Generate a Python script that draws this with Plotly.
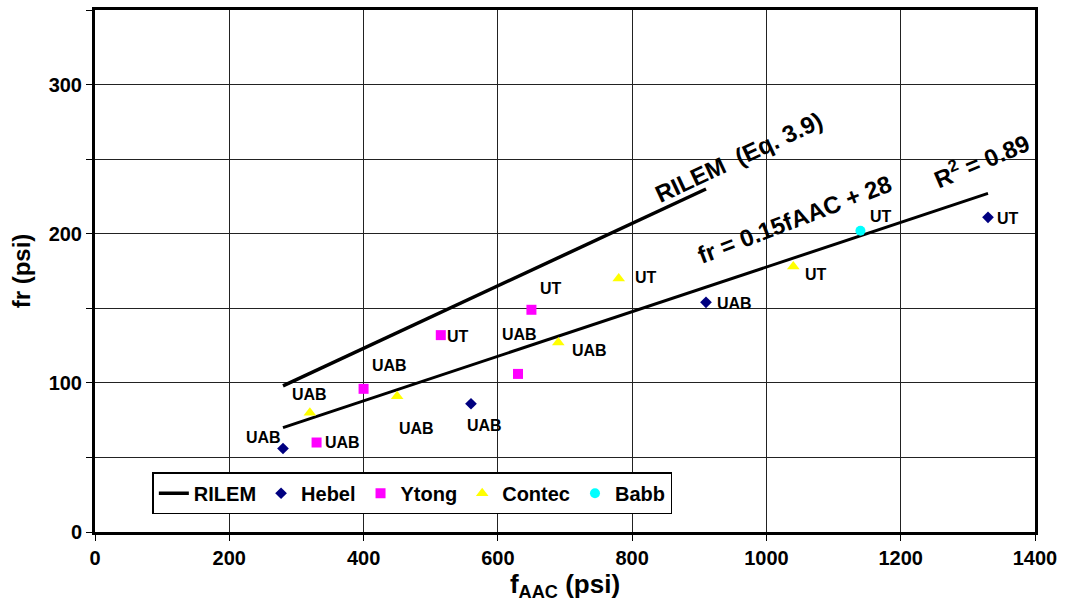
import plotly.graph_objects as go

# ---- data ----
hebel_x = [280, 560, 910, 1330]
hebel_y = [56, 86, 154, 211]
hebel_lbl = ["UAB", "UAB", "UAB", "UT"]

ytong_x = [330, 400, 515, 630, 650]
ytong_y = [60, 96, 132, 106, 149]
ytong_lbl = ["UAB", "UAB", "UT", "UAB", "UT"]

contec_x = [320, 450, 690, 780, 1040]
contec_y = [80, 91, 127, 170, 178]
contec_lbl = ["UAB", "UAB", "UAB", "UT", "UT"]

babb_x = [1140]
babb_y = [202]
babb_lbl = ["UT"]

rilem_x = [280, 910]
rilem_y = [98, 230]

fit_x = [280, 1330]
fit_y = [70, 227]

# label offsets (pixels) for each point, per series
hebel_off = [(-20, 11), (13, -22), (28, -1), (20, -1)]
ytong_off = [(26, 0), (26, 23), (17, -1), (1, 39), (20, 21)]
contec_off = [(0, 18), (19, -32), (31, -8), (27, 1), (23, -8)]
babb_off = [(21, 14)]

FONT = "Liberation Sans, Arial, sans-serif"

fig = go.Figure()

fig.add_trace(go.Scatter(x=rilem_x, y=rilem_y, mode="lines", name="RILEM",
                         line=dict(color="black", width=3.5)))
fig.add_trace(go.Scatter(x=fit_x, y=fit_y, mode="lines", showlegend=False,
                         line=dict(color="black", width=3)))
fig.add_trace(go.Scatter(x=hebel_x, y=hebel_y, mode="markers", name="Hebel",
                         marker=dict(symbol="diamond", color="#000080", size=9)))
fig.add_trace(go.Scatter(x=ytong_x, y=ytong_y, mode="markers", name="Ytong",
                         marker=dict(symbol="square", color="#FF00FF", size=10)))
fig.add_trace(go.Scatter(x=contec_x, y=contec_y, mode="markers", name="Contec",
                         marker=dict(symbol="triangle-up", color="#FFFF00", size=11)))
fig.add_trace(go.Scatter(x=babb_x, y=babb_y, mode="markers", name="Babb",
                         marker=dict(symbol="circle", color="#00FFFF", size=10)))

for xs, ys, ls, offs in [(hebel_x, hebel_y, hebel_lbl, hebel_off),
                         (ytong_x, ytong_y, ytong_lbl, ytong_off),
                         (contec_x, contec_y, contec_lbl, contec_off),
                         (babb_x, babb_y, babb_lbl, babb_off)]:
    for x, y, l, (dx, dy) in zip(xs, ys, ls, offs):
        fig.add_annotation(x=x, y=y, text=l, showarrow=False, xshift=dx, yshift=dy,
                           xanchor="center", yanchor="middle",
                           font=dict(family=FONT, size=16, color="black", weight="bold"))

for text, px, py, ang in [("RILEM  (Eq. 3.9)", 738, 155, -25),
                          ("fr = 0.15fAAC + 28", 794, 218, -21),
                          ("R<sup>2</sup> = 0.89", 981, 158, -23)]:
    fig.add_annotation(x=(px - 95) / 940, y=(532 - py) / 525, xref="paper", yref="paper",
                       xanchor="center", yanchor="middle",
                       text=text, textangle=ang, showarrow=False,
                       font=dict(family=FONT, size=24, color="black", weight="bold"))

axis_common = dict(showline=True, linecolor="black", linewidth=3, mirror=True,
                   showgrid=True, gridcolor="#222222", gridwidth=1,
                   ticks="outside", ticklen=6, tickcolor="black", tickwidth=1,
                   zeroline=False,
                   tickfont=dict(family=FONT, size=20, color="black", weight="bold"))

fig.update_xaxes(range=[0, 1400], tick0=0, dtick=200, **axis_common,
                 title=dict(text="f<sub>AAC</sub> (psi)", standoff=4,
                            font=dict(family=FONT, size=26, color="black", weight="bold")))
fig.update_yaxes(range=[0, 350], tick0=0, dtick=100, **axis_common,
                 minor=dict(tick0=0, dtick=50, showgrid=True, gridcolor="#222222", gridwidth=1,
                            ticks="outside", ticklen=6, tickcolor="black", tickwidth=1),
                 title=dict(text="fr (psi)", standoff=12,
                            font=dict(family=FONT, size=24, color="black", weight="bold")))

fig.update_layout(
    width=1066, height=611,
    margin=dict(l=95, r=31, t=7, b=79),
    plot_bgcolor="white", paper_bgcolor="white",
    legend=dict(orientation="h", x=0.061, y=0.034, xanchor="left", yanchor="bottom",
                bgcolor="white", bordercolor="black", borderwidth=1.5,
                font=dict(family=FONT, size=20, color="black", weight="bold"),
                itemwidth=30, tracegroupgap=0),
)

fig.write_html("out.html")
